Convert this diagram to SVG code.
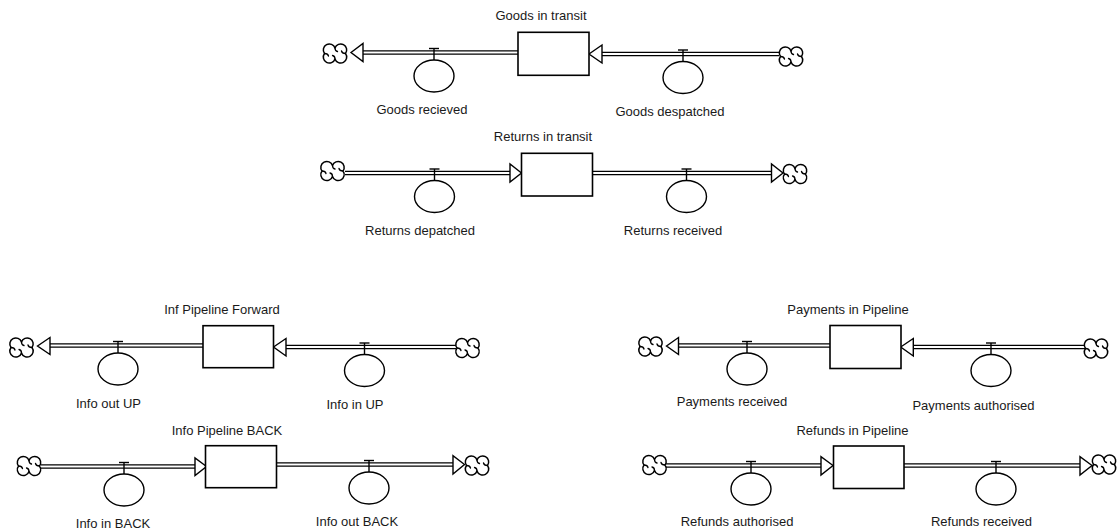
<svg xmlns="http://www.w3.org/2000/svg" width="1117" height="531" viewBox="0 0 1117 531">
<style>
text{font-family:"Liberation Sans",Arial,sans-serif;font-size:13px;fill:#1a1a1a;text-anchor:middle}
.stock{fill:#fff;stroke:#000;stroke-width:1.6}
.po{fill:none;stroke:#000;stroke-width:4.6}
.pi{fill:none;stroke:#fff;stroke-width:1.8}
.ah{fill:#fff;stroke:#000;stroke-width:1.4;stroke-linejoin:miter}
.valve{fill:#fff;stroke:#000;stroke-width:1.4}
.cloud{fill:#fff;stroke:#000;stroke-width:1.5;stroke-linejoin:round}
</style>
<defs>
<g id="cloud">
<path class="cloud" d="M 0,-5.5 A 6,6 0 1 1 10.5,0 A 6,6 0 1 1 0,5.5 A 6,6 0 1 1 -10.5,0 A 6,6 0 1 1 0,-5.5 Z"/>
<path fill="none" stroke="#000" stroke-width="1.3" stroke-linecap="round" d="M 0,-5.5 Q 0,-2.5 2.5,-2 M 0,5.5 Q 0,2.5 -2.5,2 M -10.5,0 Q -7,0 -6.5,2.5 M 10.5,0 Q 7,0 6.5,-2.5"/>
</g>
<g id="valve">
<line x1="-5" y1="-4" x2="5" y2="-4" stroke="#000" stroke-width="1.4"/>
<line x1="0" y1="-4" x2="0" y2="7.5" stroke="#000" stroke-width="1.4"/>
<ellipse class="valve" cx="0" cy="23.5" rx="20" ry="16"/>
</g>
</defs>

<g id="connectors">
<!-- Goods in transit -->
<path class="po" d="M518,52.5 H362"/><path class="pi" d="M518,52.5 H362"/>
<polygon class="ah" points="351,52.5 363,43.5 363,61.5"/>
<path class="po" d="M779,54 H601"/><path class="pi" d="M779,54 H601"/>
<polygon class="ah" points="589,54 602,45 602,63"/>
<!-- Returns in transit -->
<path class="po" d="M345,173 H511"/><path class="pi" d="M345,173 H511"/>
<polygon class="ah" points="521.5,173 510,164 510,182"/>
<path class="po" d="M592,173 H772"/><path class="pi" d="M592,173 H772"/>
<polygon class="ah" points="783,173 771.5,164 771.5,182"/>
<!-- Inf Pipeline Forward -->
<path class="po" d="M203,345.5 H49"/><path class="pi" d="M203,345.5 H49"/>
<polygon class="ah" points="37.5,346 50,337.5 50,354.5"/>
<path class="po" d="M456,347 H285"/><path class="pi" d="M456,347 H285"/>
<polygon class="ah" points="273.5,347 286,338.5 286,356"/>
<!-- Info Pipeline BACK -->
<path class="po" d="M41,466.5 H196"/><path class="pi" d="M41,466.5 H196"/>
<polygon class="ah" points="206.5,466.5 195,458 195,475.5"/>
<path class="po" d="M276.5,464.5 H454"/><path class="pi" d="M276.5,464.5 H454"/>
<polygon class="ah" points="464.5,464.5 453,455.7 453,474"/>
<!-- Payments in Pipeline -->
<path class="po" d="M830,345.5 H677"/><path class="pi" d="M830,345.5 H677"/>
<polygon class="ah" points="666.5,346 678.5,337.5 678.5,354.5"/>
<path class="po" d="M1085,347 H912"/><path class="pi" d="M1085,347 H912"/>
<polygon class="ah" points="900.7,347 913.3,338.5 913.3,356"/>
<!-- Refunds in Pipeline -->
<path class="po" d="M666,465.5 H822"/><path class="pi" d="M666,465.5 H822"/>
<polygon class="ah" points="833,465.5 821,456.7 821,475"/>
<path class="po" d="M904,465.5 H1081"/><path class="pi" d="M904,465.5 H1081"/>
<polygon class="ah" points="1092,465.5 1080,456.7 1080,475"/>
</g>

<g id="goods-in-transit">
<rect class="stock" x="518" y="32.3" width="71" height="43"/>
<text x="541" y="19.5">Goods in transit</text>
</g>
<g id="goods-recieved"><use href="#valve" x="434" y="52.5"/><text x="422" y="113.8">Goods recieved</text></g>
<g id="goods-despatched"><use href="#valve" x="683" y="54"/><text x="670" y="115.5">Goods despatched</text></g>
<g id="cloud-gl"><use href="#cloud" x="335" y="53.5"/></g>
<g id="cloud-gr"><use href="#cloud" x="791" y="56.5"/></g>

<g id="returns-in-transit">
<rect class="stock" x="521.5" y="153.3" width="71" height="42.7"/>
<text x="543" y="140.5">Returns in transit</text>
</g>
<g id="returns-depatched"><use href="#valve" x="434.5" y="173"/><text x="420" y="234.5">Returns depatched</text></g>
<g id="returns-received"><use href="#valve" x="686.5" y="173"/><text x="673" y="234.5">Returns received</text></g>
<g id="cloud-rl"><use href="#cloud" x="332.5" y="171"/></g>
<g id="cloud-rr"><use href="#cloud" x="795" y="174"/></g>

<g id="inf-pipeline-forward">
<rect class="stock" x="203" y="325.7" width="70.5" height="42"/>
<text x="222" y="313.5">Inf Pipeline Forward</text>
</g>
<g id="info-out-up"><use href="#valve" x="118" y="345.5"/><text x="108.5" y="408">Info out UP</text></g>
<g id="info-in-up"><use href="#valve" x="364.5" y="347"/><text x="355" y="409">Info in UP</text></g>
<g id="cloud-fl"><use href="#cloud" x="21.5" y="347.5"/></g>
<g id="cloud-fr"><use href="#cloud" x="467.5" y="348"/></g>

<g id="info-pipeline-back">
<rect class="stock" x="205.5" y="445.7" width="71" height="42"/>
<text x="227" y="434.5">Info Pipeline BACK</text>
</g>
<g id="info-in-back"><use href="#valve" x="124" y="466.5"/><text x="113" y="528">Info in BACK</text></g>
<g id="info-out-back"><use href="#valve" x="369" y="464.5"/><text x="357" y="526">Info out BACK</text></g>
<g id="cloud-bl"><use href="#cloud" x="29" y="466"/></g>
<g id="cloud-br"><use href="#cloud" x="477" y="465.5"/></g>

<g id="payments-in-pipeline">
<rect class="stock" x="830" y="325.5" width="71" height="43"/>
<text x="848" y="313.5">Payments in Pipeline</text>
</g>
<g id="payments-received"><use href="#valve" x="747" y="345.5"/><text x="732" y="406">Payments received</text></g>
<g id="payments-authorised"><use href="#valve" x="991" y="347"/><text x="973.5" y="409.5">Payments authorised</text></g>
<g id="cloud-pl"><use href="#cloud" x="650.5" y="346.5"/></g>
<g id="cloud-pr"><use href="#cloud" x="1096" y="348.5"/></g>

<g id="refunds-in-pipeline">
<rect class="stock" x="833.5" y="446" width="70.5" height="42.5"/>
<text x="852.5" y="434.5">Refunds in Pipeline</text>
</g>
<g id="refunds-authorised"><use href="#valve" x="751" y="465.5"/><text x="737" y="526">Refunds authorised</text></g>
<g id="refunds-received"><use href="#valve" x="996" y="465.5"/><text x="981.5" y="526">Refunds received</text></g>
<g id="cloud-rfl"><use href="#cloud" x="654.5" y="465"/></g>
<g id="cloud-rfr"><use href="#cloud" x="1104" y="464.5"/></g>
</svg>
